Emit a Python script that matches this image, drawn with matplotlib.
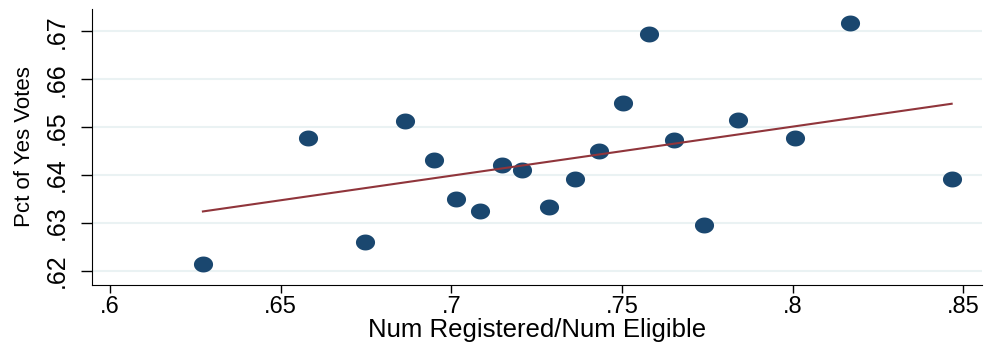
import numpy as np
import matplotlib
matplotlib.use("Agg")
import matplotlib.pyplot as plt
from matplotlib.path import Path

plt.rcParams['font.family'] = ['Liberation Sans', 'DejaVu Sans']

# registration ratio vs share of yes votes
reg_ratio = [0.6272, 0.6580, 0.6747, 0.6864, 0.6950, 0.7015, 0.7085, 0.7148, 0.7208, 0.7287,
             0.7361, 0.7434, 0.7504, 0.7579, 0.7652, 0.7739, 0.7841, 0.8008, 0.8169, 0.8466]
yes_pct = [0.6215, 0.6478, 0.6260, 0.6512, 0.6431, 0.6351, 0.6325, 0.6422, 0.6410, 0.6334,
           0.6392, 0.6451, 0.6551, 0.6694, 0.6474, 0.6295, 0.6515, 0.6478, 0.6717, 0.6391]
# fitted line, at min and max of x
fit_x = [0.6272, 0.8466]
fit_y = [0.6324, 0.6549]
xticks = [0.6, 0.65, 0.7, 0.75, 0.8, 0.85]
xticklabels = ['.6', '.65', '.7', '.75', '.8', '.85']
yticks = [0.62, 0.63, 0.64, 0.65, 0.66, 0.67]
yticklabels = ['.62', '.63', '.64', '.65', '.66', '.67']

# slightly wide ellipse marker
t = np.linspace(0, 2*np.pi, 40)
ell = Path(np.column_stack([1.2*np.cos(t), np.sin(t)]))

fig = plt.figure(figsize=(9.84, 3.51), dpi=100)
ax = fig.add_axes([0.0935, 0.1880, 0.9045, 0.7864])

for v in yticks:
    ax.axhline(v, color='#eaf2f3', lw=1.5, zorder=0)
ax.scatter(reg_ratio, yes_pct, marker=ell, s=190, color='#1a476f', zorder=3, linewidths=0)
ax.plot(fit_x, fit_y, color='#90353b', lw=1.5, zorder=4)

ax.set_xlim(0.5947, 0.8555)
ax.set_ylim(0.61703, 0.6747)
ax.set_xticks(xticks)
ax.set_xticklabels(xticklabels)
ax.set_yticks(yticks)
ax.set_yticklabels(yticklabels, rotation=90, va='center')
ax.tick_params(axis='x', labelsize=17, length=6, width=1, pad=2)
ax.tick_params(axis='y', labelsize=18, length=8, width=1, pad=9)
ax.spines['top'].set_visible(False)
ax.spines['right'].set_visible(False)
ax.set_xlabel('Num Registered/Num Eligible', fontsize=18.5, labelpad=0)
ax.set_ylabel('Pct of Yes Votes', fontsize=16, labelpad=7)

fig.savefig('out.png', dpi=100)
